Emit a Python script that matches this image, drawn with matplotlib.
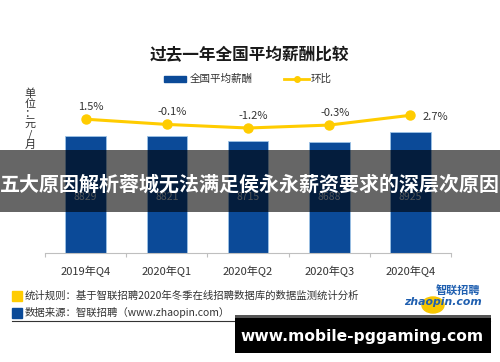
import matplotlib
matplotlib.use("Agg")
import matplotlib.pyplot as plt
from matplotlib.patches import Rectangle, Circle
from matplotlib.lines import Line2D

plt.rcParams['font.family'] = ['Noto Sans CJK SC', 'DejaVu Sans']

# data
quarters = ["2019年Q4", "2020年Q1", "2020年Q2", "2020年Q3", "2020年Q4"]
salary = [8829, 8821, 8715, 8688, 8925]
mom = [1.5, -0.1, -1.2, -0.3, 2.7]
mom_labels = ["1.5%", "-0.1%", "-1.2%", "-0.3%", "2.7%"]

BLUE = "#0b4a98"
GOLD = "#ffcc00"
W, H = 500, 362


def fx(x):
    return x / W


def fy(y):
    return 1 - y / H


fig = plt.figure(figsize=(5, 3.62), dpi=100)
fig.patch.set_facecolor("white")

# plot area: x 45..451 px, y 100..253 px
ax = fig.add_axes([fx(45), fy(253), fx(451) - fx(45), fy(100) - fy(253)])
xs = list(range(len(quarters)))
ax.bar(xs, salary, width=0.5, color=BLUE, edgecolor="#9dc3e6", linewidth=0.6, zorder=2)
ax.set_xlim(-0.5, 4.5)
ax.set_ylim(6000, 9703)
ax.set_yticks([])
for s in ("top", "right", "left"):
    ax.spines[s].set_visible(False)
ax.spines["bottom"].set_color("#bfbfbf")
ax.set_xticks([i - 0.5 for i in range(len(quarters) + 1)])
ax.set_xticklabels([])
ax.tick_params(axis="x", which="major", length=3, color="#bfbfbf")
ax.set_xticks(xs, minor=True)
ax.set_xticklabels(quarters, minor=True, fontsize=8, color="#333333")
ax.tick_params(axis="x", which="minor", length=0, pad=9)
ax.set_facecolor("none")

for x, v in zip(xs, salary):
    ax.text(x, 0.366, str(v), transform=ax.get_xaxis_transform(),
            ha="center", va="center", fontsize=7.5, color="#c8d0da", zorder=3)

ax2 = ax.twinx()
ax2.set_ylim(-39.54, 7.39)
ax2.axis("off")
ax2.plot(xs, mom, color=GOLD, lw=2.2, marker="o", ms=6.5, zorder=4)
for i, (v, lab) in enumerate(zip(mom, mom_labels)):
    if i == len(mom) - 1:
        ax2.annotate(lab, (xs[i], v), xytext=(9, -1), textcoords="offset points",
                     ha="left", va="center", fontsize=8, color="#333333")
    else:
        ax2.annotate(lab, (xs[i], v), xytext=(4, 9), textcoords="offset points",
                     ha="center", va="center", fontsize=8, color="#333333")

# title and legend
fig.text(fx(249), fy(55), "过去一年全国平均薪酬比较", ha="center", va="center",
         fontsize=12, fontweight="bold", color="#1a1a1a")
fig.patches.append(Rectangle((fx(164), fy(81.5)), fx(22), 6 / H, transform=fig.transFigure,
                             color=BLUE))
fig.text(fx(190), fy(78.5), "全国平均薪酬", ha="left", va="center", fontsize=7.6, color="#333333")
fig.lines.append(Line2D([fx(284), fx(309)], [fy(78.5), fy(78.5)], transform=fig.transFigure,
                        color=GOLD, lw=2))
fig.lines.append(Line2D([fx(297)], [fy(78.5)], transform=fig.transFigure,
                        color=GOLD, marker="o", ms=4))
fig.text(fx(311), fy(78.5), "环比", ha="left", va="center", fontsize=7.6, color="#333333")

fig.text(fx(30), fy(119), "单\n位\n：\n元\n/\n月", ha="center", va="center",
         fontsize=8, color="#333333", linespacing=1.0)

# footer
fig.patches.append(Rectangle((fx(12), fy(301)), fx(10), 10 / H, transform=fig.transFigure,
                             color=GOLD))
fig.text(fx(25), fy(296), "统计规则：基于智联招聘2020年冬季在线招聘数据库的数据监测统计分析",
         ha="left", va="center", fontsize=7.5, color="#333333")
fig.patches.append(Rectangle((fx(12), fy(318)), fx(10), 10 / H, transform=fig.transFigure,
                             color=BLUE))
fig.text(fx(25), fy(313), "数据来源：智联招聘（www.zhaopin.com）",
         ha="left", va="center", fontsize=7.5, color="#333333")
fig.lines.append(Line2D([fx(12), fx(490)], [fy(321), fy(321)], transform=fig.transFigure,
                        color="#333333", lw=0.8))

# logo
fig.patches.append(Circle((fx(433), fy(305)), 8 / H, transform=fig.transFigure,
                          color="#f7c600", zorder=1))
fig.text(fx(458), fy(291), "智联招聘", ha="center", va="center", fontsize=8,
         fontweight="bold", style="italic", color="#1f5fb0", zorder=3)
fig.text(fx(443), fy(302), "zhaopin.com", ha="center", va="center", fontsize=7.8,
         fontweight="bold", style="italic", color="#1f5fb0", family="DejaVu Sans", zorder=3)

# overlay banner
fig.patches.append(Rectangle((0, fy(212)), 1, 62 / H, transform=fig.transFigure,
                             facecolor="black", edgecolor="none", alpha=0.6, zorder=10))
fig.text(0.5, fy(184), "五大原因解析蓉城无法满足侯永永薪资要求的深层次原因", ha="center",
         va="center", fontsize=14.4, fontweight="bold", color="white", zorder=11)

# watermark
fig.patches.append(Rectangle((fx(235), fy(353)), fx(256), 38 / H, transform=fig.transFigure,
                             facecolor="black", edgecolor="none", zorder=10))
fig.patches.append(Rectangle((fx(235), fy(318)), fx(256), 3 / H, transform=fig.transFigure,
                             facecolor="#555555", edgecolor="none", zorder=11))
fig.text(fx(362), fy(337), "www.mobile-pggaming.com", ha="center", va="center",
         fontsize=11.2, fontweight="bold", color="white", family="DejaVu Sans", zorder=12)

fig.savefig("out.png", dpi=100)
